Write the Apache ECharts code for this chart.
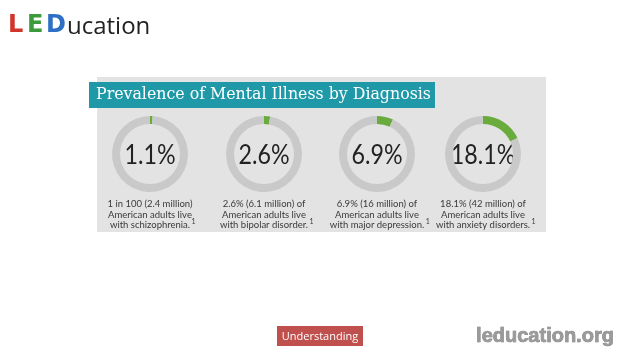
<!DOCTYPE html>
<html><head><meta charset="utf-8">
<script src="https://cdn.jsdelivr.net/npm/echarts@6/dist/echarts.min.js"></script>
<style>html,body{margin:0;padding:0;background:#fff}#c{width:638px;height:359px}</style>
</head><body><div id="c"></div>
<script>
const percents = [1.1, 2.6, 6.9, 18.1];
const percentLabels = ['1.1%', '2.6%', '6.9%', '18.1%'];
const descLine1 = ['1 in 100 (2.4 million)', '2.6% (6.1 million) of', '6.9% (16 million) of', '18.1% (42 million) of'];
const descLine2 = ['American adults live', 'American adults live', 'American adults live', 'American adults live'];
const descLine3 = ['with schizophrenia.', 'with bipolar disorder.', 'with major depression.', 'with anxiety disorders.'];
const titleText = 'Prevalence of Mental Illness by Diagnosis';

const centersX = [150, 264, 377, 483];
const cy = 154;
const chart = echarts.init(document.getElementById('c'), null, {renderer: 'canvas'});

const series = percents.map((p, i) => ({
  type: 'pie',
  center: [centersX[i], cy],
  radius: [30, 38],
  startAngle: 90,
  clockwise: true,
  silent: true,
  label: {show: false},
  labelLine: {show: false},
  emphasis: {disabled: true},
  data: [
    {value: p, itemStyle: {color: '#6aab3e'}},
    {value: 100 - p, itemStyle: {color: '#c9c9c9'}}
  ]
}));

const descFont = '9.5px Lato';
const ctx = document.createElement('canvas').getContext('2d');
ctx.font = descFont;

const graphics = [
  {type: 'rect', shape: {x: 97, y: 77, width: 449, height: 155}, style: {fill: '#e3e3e3'}, z: -10},
  {type: 'rect', shape: {x: 89, y: 82, width: 346, height: 26}, style: {fill: '#1f99a7'}, z: -5},
  {type: 'text', x: 96, y: 95, style: {text: titleText, fill: '#fff', font: '15.8px "DejaVu Serif"', textVerticalAlign: 'middle'}},
  // logo
  {type: 'text', x: 8, y: 26, style: {text: 'L', fill: '#d0342c', font: 'bold 24px "DejaVu Sans"', textVerticalAlign: 'middle'}},
  {type: 'text', x: 27, y: 26, style: {text: 'E', fill: '#3b9a3b', font: 'bold 24px "DejaVu Sans"', textVerticalAlign: 'middle'}},
  {type: 'text', x: 46, y: 26, style: {text: 'D', fill: '#2c6fc4', font: 'bold 24px "DejaVu Sans"', textVerticalAlign: 'middle'}},
  {type: 'text', x: 67, y: 27, style: {text: 'ucation', fill: '#222', font: '24px "Open Sans"', textVerticalAlign: 'middle'}},
  // bottom
  {type: 'rect', shape: {x: 277, y: 326, width: 86, height: 20}, style: {fill: '#c0504d'}},
  {type: 'text', x: 320, y: 336.5, style: {text: 'Understanding', fill: '#fff', font: '11px "Open Sans"', textAlign: 'center', textVerticalAlign: 'middle'}},
  {type: 'text', x: 545, y: 336, style: {text: 'leducation.org', fill: '#9a9a9a', stroke: '#6a6a6a', lineWidth: 0.6, font: 'bold 20px "Liberation Sans"', textAlign: 'center', textVerticalAlign: 'middle'}}
];

percents.forEach((p, i) => {
  graphics.push({type: 'text', x: centersX[i], y: cy + 1, scaleX: 0.86, style: {text: percentLabels[i], fill: '#222', font: '27px Lato', textAlign: 'center', textVerticalAlign: 'middle'}});
  [descLine1[i], descLine2[i], descLine3[i]].forEach((t, j) => {
    graphics.push({type: 'text', x: centersX[i], y: 204 + j * 10.5, style: {text: t, fill: '#3a3a3a', font: descFont, textAlign: 'center', textVerticalAlign: 'middle'}});
  });
  const w = ctx.measureText(descLine3[i]).width;
  graphics.push({type: 'text', x: centersX[i] + w / 2 + 1.5, y: 222, style: {text: '1', fill: '#3a3a3a', font: '7px Lato', textAlign: 'left', textVerticalAlign: 'middle'}});
});

chart.setOption({
  backgroundColor: '#fff',
  animation: false,
  series: series,
  graphic: graphics
});
</script></body></html>
